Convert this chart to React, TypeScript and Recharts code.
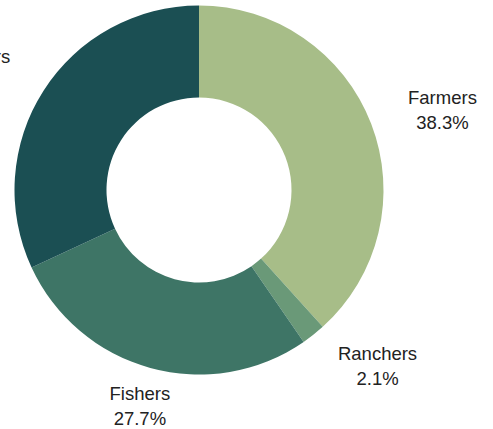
import { Cell, Pie, PieChart } from 'recharts'

const groups = ['Farmers', 'Ranchers', 'Fishers', 'Foresters']
const shares = [38.3, 2.1, 27.7, 31.9]
const colors = ['#a7bd88', '#6a9978', '#3e7566', '#1b4f53']

const data = groups.map((name, i) => ({ name, value: shares[i] }))

const RADIAN = Math.PI / 180
const FONT = "18.5px 'Liberation Sans', Arial, sans-serif"

let ctx: CanvasRenderingContext2D | null = null
function textWidth(s: string): number {
  if (!ctx) ctx = document.createElement('canvas').getContext('2d')
  if (!ctx) return s.length * 10
  ctx.font = FONT
  return ctx.measureText(s).width
}

function renderLabel(props: any) {
  const { cx, cy, midAngle, outerRadius, name, value } = props
  const r = outerRadius + 39.5
  const cos = Math.cos(-midAngle * RADIAN)
  const sin = Math.sin(-midAngle * RADIAN)
  const px = cx + r * cos
  const py = cy + r * sin
  const pct = `${value.toFixed(1)}%`
  const w = Math.max(textWidth(name), textWidth(pct))
  // box sits beside the anchor point, text centred inside it
  const x = cos > 0.3 ? px + w / 2 : cos < -0.3 ? px - w / 2 : px
  return (
    <text
      x={x}
      y={py}
      textAnchor="middle"
      fill="#222"
      fontSize={18.5}
      fontFamily="'Liberation Sans', Arial, sans-serif"
    >
      <tspan x={x} dy={-6}>
        {name}
      </tspan>
      <tspan x={x} dy={25}>
        {pct}
      </tspan>
    </text>
  )
}

export default function App() {
  return (
    <div style={{ position: 'fixed', left: 0, top: 0, background: '#fff' }}>
      <PieChart width={493} height={429} margin={{ top: 0, right: 0, bottom: 0, left: 0 }}>
        <Pie
          data={data}
          dataKey="value"
          nameKey="name"
          cx={199}
          cy={190}
          innerRadius={92.5}
          outerRadius={184.5}
          startAngle={90}
          endAngle={-270}
          stroke="none"
          label={renderLabel}
          labelLine={false}
          isAnimationActive={false}
        >
          {data.map((d, i) => (
            <Cell key={d.name} fill={colors[i]} />
          ))}
        </Pie>
      </PieChart>
    </div>
  )
}
